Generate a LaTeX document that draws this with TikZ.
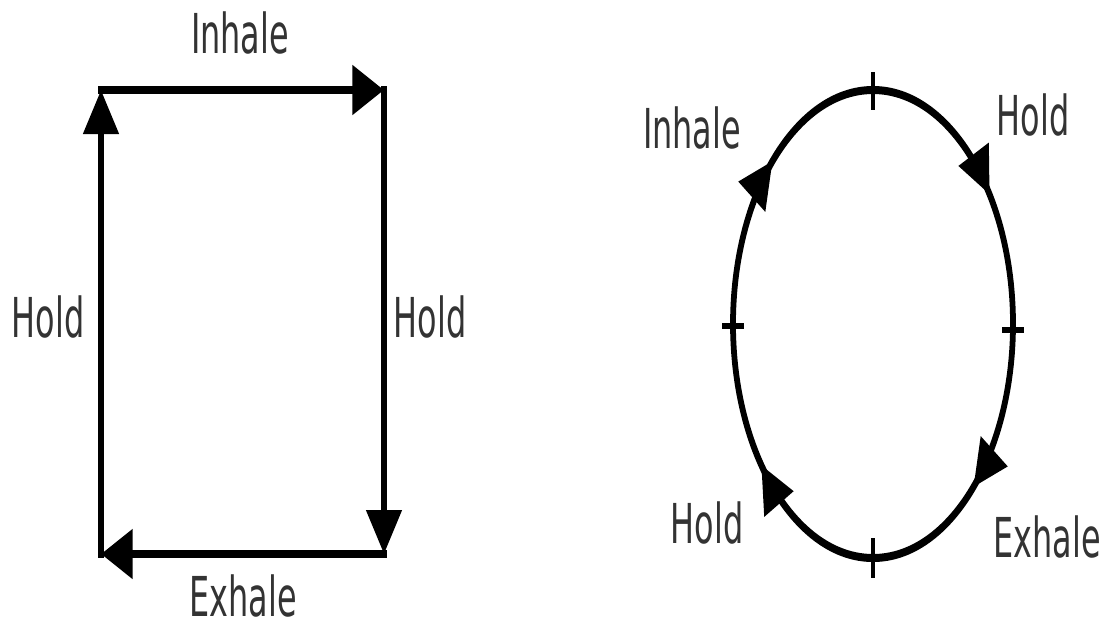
\documentclass[tikz,border=0pt]{standalone}
\usepackage{fontspec}
\newfontfamily\lblfont[FakeStretch=0.58]{DejaVu Sans}
\usetikzlibrary{arrows.meta,decorations.markings}
\definecolor{lblc}{HTML}{333333}
\begin{document}
\begin{tikzpicture}[x=1pt,y=-1pt]
\tikzset{
  lbl/.style={font=\lblfont\fontsize{55}{60}\selectfont, text=lblc, anchor=base, inner sep=0pt},
  rectline/.style={line width=8.5pt, black, line cap=rect, -{Triangle[length=44pt,width=48pt]}},
  ellline/.style={line width=8pt, black},
  tickline/.style={line width=6pt, black},
}
\useasboundingbox (0,0) rectangle (1110,625);
\begin{scope}[transform canvas={xscale=0.72}, x=1.388889pt, y=-1pt]
  % square breathing
  \coordinate (TL) at (101,90);
  \coordinate (TR) at (384,90);
  \coordinate (BR) at (384,554);
  \coordinate (BL) at (101,554);
  \draw[rectline] (TL) -- (TR);
  \draw[rectline] (TR) -- (BR);
  \draw[rectline] (BR) -- (BL);
  \draw[rectline] (BL) -- (TL);
  % oval breathing
  \coordinate (eR) at (1013,324);
  \draw[ellline, postaction={decorate}, decoration={markings,
      mark=at position 0.13 with {\arrow{Triangle[length=46pt,width=46pt]}},
      mark=at position 0.39 with {\arrow{Triangle[length=46pt,width=46pt]}},
      mark=at position 0.63 with {\arrow{Triangle[length=46pt,width=46pt]}},
      mark=at position 0.90 with {\arrow{Triangle[length=46pt,width=46pt]}}}]
    (eR) arc[start angle=0, end angle=360, x radius=140, y radius=234];
  \draw[tickline] (873,72) -- (873,110);
  \draw[tickline] (873,538) -- (873,578);
  \draw[tickline] (722,326) -- (744,326);
  \draw[tickline] (1002,330) -- (1024,330);
\end{scope}
\node[lbl] (inhaleA) at (240,53) {Inhale};
\node[lbl] (holdL) at (48,337) {Hold};
\node[lbl] (holdR) at (430,337) {Hold};
\node[lbl] (exhaleA) at (243,616) {Exhale};
\node[lbl] (inhaleB) at (692,148) {Inhale};
\node[lbl] (holdB1) at (1033,135) {Hold};
\node[lbl] (holdB2) at (707,543) {Hold};
\node[lbl] (exhaleB) at (1047,557) {Exhale};
\end{tikzpicture}
\end{document}
